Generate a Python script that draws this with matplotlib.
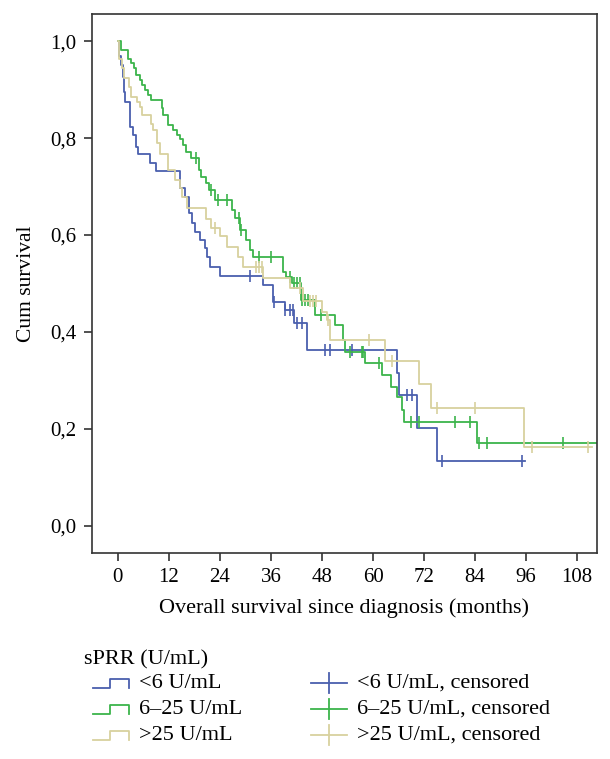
import numpy as np
import matplotlib
matplotlib.use('Agg')
import matplotlib.pyplot as plt
from matplotlib.lines import Line2D

plt.rcParams['font.family'] = ['Liberation Serif', 'DejaVu Serif']

# step curves: event times (months) and survival after each event
low_t = [0, 0.3, 0.7, 1.1, 1.4, 1.7, 2.8, 3.5, 4.2, 4.8, 7.5, 8.9, 14.6, 15.7, 16.8,
         17.4, 18.1, 19.3, 20.5, 21.0, 21.6, 24.0, 34.2, 36.5, 39.3, 41.4, 44.4,
         65.6, 66.0, 70.3, 75.0, 95.8]
low_s = [1.0, 0.97, 0.95, 0.926, 0.895, 0.875, 0.823, 0.806, 0.782, 0.768, 0.748, 0.732,
         0.696, 0.679, 0.645, 0.624, 0.607, 0.590, 0.573, 0.555, 0.535, 0.516, 0.497,
         0.462, 0.445, 0.418, 0.363, 0.315, 0.270, 0.201, 0.134, 0.134]
low_cens = [31.1, 36.8, 39.3, 40.5, 41.2, 42.1, 43.2, 48.7, 49.9, 55.0, 67.9, 69.1, 76.1, 95.0]

mid_t = [0, 0.7, 2.4, 3.0, 3.8, 4.2, 5.2, 5.7, 6.4, 7.1, 7.7, 10.3, 10.7, 11.8, 13.0,
         13.8, 14.7, 15.4, 16.0, 17.2, 19.0, 19.5, 20.8, 21.5, 22.8, 26.8, 27.5, 28.7,
         30.1, 31.1, 31.8, 38.8, 39.5, 41.0, 43.0, 46.4, 51.1, 53.0, 53.5, 58.1, 62.0,
         64.3, 65.6, 66.7, 67.3, 84.4, 113.0]
mid_s = [1.0, 0.981, 0.964, 0.954, 0.944, 0.930, 0.920, 0.909, 0.899, 0.889, 0.878, 0.861,
         0.847, 0.827, 0.816, 0.806, 0.799, 0.786, 0.772, 0.758, 0.735, 0.720, 0.707,
         0.693, 0.672, 0.652, 0.635, 0.610, 0.590, 0.569, 0.555, 0.524, 0.514, 0.500,
         0.466, 0.435, 0.414, 0.384, 0.359, 0.335, 0.311, 0.287, 0.265, 0.239, 0.214,
         0.170, 0.170]
mid_cens = [18.4, 22.0, 23.6, 25.6, 28.5, 29.0, 33.3, 35.9, 40.5, 41.5, 42.2, 42.8, 43.2,
            44.0, 44.8, 47.7, 54.6, 57.3, 57.7, 61.3, 68.9, 70.8, 79.3, 82.7, 84.8, 86.9,
            104.6]

high_t = [0, 0.3, 0.9, 1.4, 2.7, 3.2, 4.5, 5.2, 5.7, 7.9, 8.3, 9.1, 9.9, 11.8, 13.4,
          14.6, 15.2, 16.2, 20.7, 22.0, 24.0, 25.7, 28.3, 29.5, 34.2, 40.5, 43.5, 47.9,
          49.1, 49.9, 62.8, 70.7, 73.6, 95.5, 111.5]
high_s = [1.0, 0.964, 0.944, 0.923, 0.906, 0.885, 0.875, 0.865, 0.847, 0.830, 0.816, 0.789,
          0.768, 0.734, 0.713, 0.696, 0.679, 0.655, 0.634, 0.614, 0.597, 0.576, 0.555,
          0.535, 0.511, 0.490, 0.463, 0.442, 0.425, 0.384, 0.341, 0.292, 0.243, 0.162,
          0.162]
high_cens = [22.9, 32.6, 33.2, 33.8, 42.8, 45.2, 46.0, 46.7, 49.5, 59.1, 64.4, 75.0, 84.0,
             97.3, 110.5]

groups = ['<6 U/mL', '6\u201325 U/mL', '>25 U/mL']
colors = ['#4a5fae', '#3cb44b', '#d8d19e']
curves = [(low_t, low_s, low_cens), (mid_t, mid_s, mid_cens), (high_t, high_s, high_cens)]

fig = plt.figure(figsize=(6.1, 7.59), dpi=100)
ax = fig.add_axes([0.150, 0.2714, 0.829, 0.7102])

for (t, s, c), col in zip(curves, colors):
    t = np.array(t)
    s = np.array(s)
    ax.step(t, s, where='post', color=col, lw=1.3)
    c = np.array(c)
    cy = s[np.searchsorted(t, c, side='right') - 1]
    ax.plot(c, cy, ls='none', marker='|', ms=8, mew=1.2, color=col)

ax.set_xlim(-6.19, 112.7)
ax.set_ylim(-0.056, 1.056)
ax.set_xticks(np.arange(0, 109, 12))
ax.set_yticks(np.arange(0, 1.01, 0.2))
ax.set_yticklabels([f'{v:.1f}'.replace('.', ',') for v in np.arange(0, 1.01, 0.2)])
ax.tick_params(direction='out', length=6, width=1.2, labelsize=15, color='#333333', pad=5)
for sp in ax.spines.values():
    sp.set_linewidth(1.2)
    sp.set_color('#333333')
ax.set_xlabel('Overall survival since diagnosis (months)', fontsize=16, labelpad=8)
ax.set_ylabel('Cum survival', fontsize=15.5, labelpad=10)

# legend drawn below the axes in pixel-based figure coordinates
W, H = 610, 759
def fx(px):
    return px / W
def fy(py):
    return 1 - py / H

fig.text(fx(84), fy(660), 'sPRR (U/mL)', fontsize=16, va='center', ha='left')
rows = [686, 712, 738]
for g, col, ry in zip(groups, colors, rows):
    xs = [93, 110, 110, 129, 129]
    ys = [ry + 2, ry + 2, ry - 7, ry - 7, ry + 2]
    fig.add_artist(Line2D([fx(v) for v in xs], [fy(v) for v in ys], color=col, lw=1.3))
    fig.text(fx(139), fy(ry - 3), g, fontsize=16, va='center', ha='left')
    fig.add_artist(Line2D([fx(311), fx(347)], [fy(ry - 3)] * 2, color=col, lw=1.3))
    fig.add_artist(Line2D([fx(329), fx(329)], [fy(ry - 13), fy(ry + 7)], color=col, lw=1.3))
    fig.text(fx(357), fy(ry - 3), g + ', censored', fontsize=16, va='center', ha='left')

fig.savefig('out.png', dpi=100)
